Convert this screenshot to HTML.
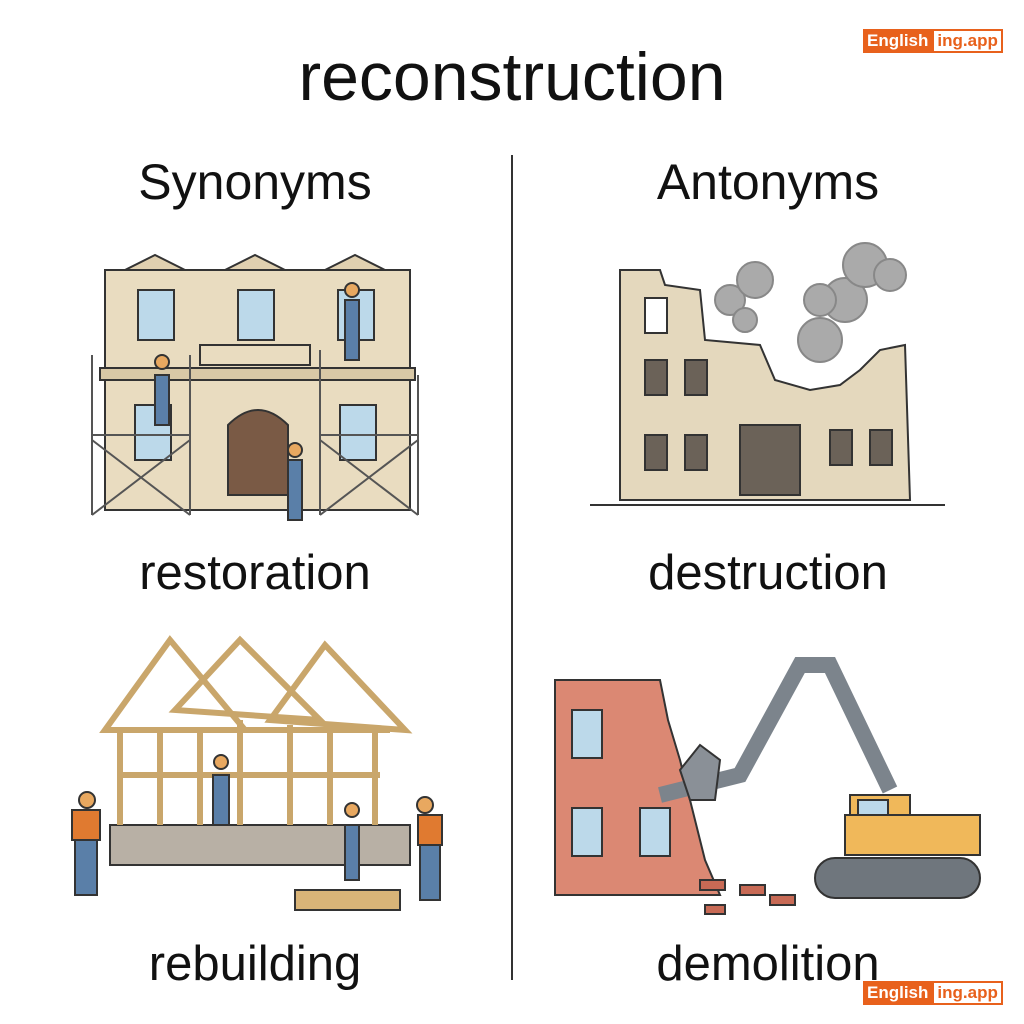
<!DOCTYPE html>
<html><head><meta charset="utf-8"><style>
body{margin:0;width:1024px;height:1024px;background:#fff;position:relative;overflow:hidden;font-family:"Liberation Sans",sans-serif}
.t{position:absolute;text-align:center;color:#111;white-space:nowrap}
.logo{position:absolute;left:863px;height:24px;display:flex;font-size:17px;font-weight:bold}
.logo .a{background:#e8611c;color:#fff;padding:0 4px;line-height:24px}
.logo .b{background:#fff;color:#e8611c;border:2px solid #e8611c;padding:0 3px;line-height:20px}
</style></head><body>
<div class="t" style="left:0;width:1024px;top:38px;font-size:68px">reconstruction</div>
<div class="t" style="left:55px;width:400px;top:153px;font-size:50px">Synonyms</div>
<div class="t" style="left:568px;width:400px;top:153px;font-size:50px">Antonyms</div>
<div class="t" style="left:55px;width:400px;top:545px;font-size:49px">restoration</div>
<div class="t" style="left:568px;width:400px;top:545px;font-size:49px">destruction</div>
<div class="t" style="left:55px;width:400px;top:936px;font-size:49px">rebuilding</div>
<div class="t" style="left:568px;width:400px;top:936px;font-size:49px">demolition</div>
<div style="position:absolute;left:511px;top:155px;width:2px;height:825px;background:#333"></div>
<div class="logo" style="top:29px"><span class="a">English</span><span class="b">ing.app</span></div>
<div class="logo" style="top:981px"><span class="a">English</span><span class="b">ing.app</span></div>
<svg width="1024" height="1024" style="position:absolute;left:0;top:0" stroke="#333" stroke-width="2">
<rect x="105" y="270" width="305" height="240" fill="#e9dcc0"/>
<rect x="100" y="368" width="315" height="12" fill="#d8c8a6"/>
<polygon points="125,270 155,255 185,270" fill="#e0d0b0"/>
<polygon points="225,270 255,255 285,270" fill="#e0d0b0"/>
<polygon points="325,270 355,255 385,270" fill="#e0d0b0"/>
<g fill="#bcd9ea"><rect x="138" y="290" width="36" height="50"/><rect x="238" y="290" width="36" height="50"/><rect x="338" y="290" width="36" height="50"/><rect x="135" y="405" width="36" height="55"/><rect x="340" y="405" width="36" height="55"/></g>
<rect x="200" y="345" width="110" height="20" fill="#e9dcc0"/>
<path d="M228,495 V425 Q258,395 288,425 V495 Z" fill="#7a5a45"/>
<g stroke="#555" fill="none"><path d="M92,355 V515 M190,355 V515 M320,350 V515 M418,375 V515 M92,435 H190 M320,435 H418 M92,440 L190,515 M190,440 L92,515 M320,440 L418,515 M418,440 L320,515"/></g>
<g fill="#5a7fa8"><rect x="155" y="375" width="14" height="50"/><rect x="345" y="300" width="14" height="60"/><rect x="288" y="460" width="14" height="60"/></g>
<g fill="#e8a860"><circle cx="162" cy="362" r="7"/><circle cx="352" cy="290" r="7"/><circle cx="295" cy="450" r="7"/></g>
<polygon points="620,270 660,270 665,285 700,290 705,340 760,345 775,380 810,390 840,385 860,370 880,350 905,345 910,500 620,500" fill="#e4d8bd"/>
<line x1="590" y1="505" x2="945" y2="505"/>
<g fill="#6b6258"><rect x="645" y="360" width="22" height="35"/><rect x="685" y="360" width="22" height="35"/><rect x="645" y="435" width="22" height="35"/><rect x="685" y="435" width="22" height="35"/><rect x="830" y="430" width="22" height="35"/><rect x="870" y="430" width="22" height="35"/><rect x="740" y="425" width="60" height="70"/></g>
<rect x="645" y="298" width="22" height="35" fill="#fff"/>
<g fill="#aaa" stroke="#888"><circle cx="730" cy="300" r="15"/><circle cx="755" cy="280" r="18"/><circle cx="745" cy="320" r="12"/><circle cx="820" cy="340" r="22"/><circle cx="845" cy="300" r="22"/><circle cx="865" cy="265" r="22"/><circle cx="890" cy="275" r="16"/><circle cx="820" cy="300" r="16"/></g>
<rect x="110" y="825" width="300" height="40" fill="#b8b0a5"/>
<polygon points="105,730 170,640 245,730" fill="none" stroke="#c9a66b" stroke-width="6"/>
<polygon points="175,710 240,640 320,720" fill="none" stroke="#c9a66b" stroke-width="6"/>
<polygon points="270,720 325,645 405,730" fill="none" stroke="#c9a66b" stroke-width="6"/>
<g stroke="#c9a66b" stroke-width="6" fill="none"><path d="M120,730 V825 M160,730 V825 M200,730 V825 M240,720 V825 M290,725 V825 M330,725 V825 M375,730 V825 M120,775 H380 M120,730 H390"/></g>
<g fill="#5a7fa8"><rect x="75" y="815" width="22" height="80"/><rect x="345" y="825" width="14" height="55"/><rect x="420" y="830" width="20" height="70"/><rect x="213" y="775" width="16" height="50"/></g>
<g fill="#e07a30"><rect x="72" y="810" width="28" height="30"/><rect x="418" y="815" width="24" height="30"/></g>
<g fill="#e8a860"><circle cx="87" cy="800" r="8"/><circle cx="425" cy="805" r="8"/><circle cx="221" cy="762" r="7"/><circle cx="352" cy="810" r="7"/></g>
<rect x="295" y="890" width="105" height="20" fill="#d9b478"/>
<polygon points="555,680 660,680 668,720 680,760 690,800 705,860 720,895 555,895" fill="#db8873"/>
<g fill="#bcd9ea"><rect x="572" y="710" width="30" height="48"/><rect x="572" y="808" width="30" height="48"/><rect x="640" y="808" width="30" height="48"/></g>
<path d="M660,795 L740,775 L800,665 L830,665 L890,790" fill="none" stroke="#7c848c" stroke-width="16"/>
<polygon points="680,770 700,745 720,760 715,800 690,800" fill="#8a9097"/>
<rect x="850" y="795" width="60" height="50" fill="#f0b85a"/>
<rect x="858" y="800" width="30" height="30" fill="#bcd9ea"/>
<rect x="845" y="815" width="135" height="40" fill="#f0b85a"/>
<rect x="815" y="858" width="165" height="40" rx="20" fill="#6f767d"/>
<g fill="#c86a55"><rect x="700" y="880" width="25" height="10"/><rect x="740" y="885" width="25" height="10"/><rect x="770" y="895" width="25" height="10"/><rect x="705" y="905" width="20" height="9"/></g>
</svg>
</body></html>
